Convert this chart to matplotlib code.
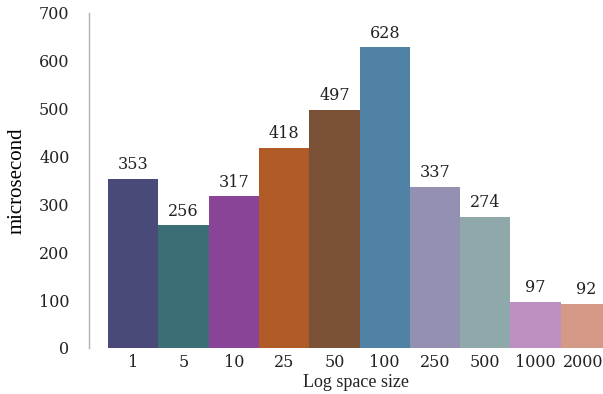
import matplotlib
matplotlib.use("Agg")
import matplotlib.pyplot as plt
import numpy as np

sizes = ["1", "5", "10", "25", "50", "100", "250", "500", "1000", "2000"]
micros = [353, 256, 317, 418, 497, 628, 337, 274, 97, 92]
colors = ["#4a4a7a", "#3b6f75", "#8a4497", "#b05a27", "#7a5036",
          "#4f82a4", "#9490b1", "#8fa8a9", "#bd90c1", "#d59a87"]

plt.rcParams["font.family"] = ["Liberation Serif", "DejaVu Serif"]
num_font = "DejaVu Serif"
ink = "#222222"

fig = plt.figure(figsize=(6.03, 3.94), dpi=100)
ax = fig.add_axes([0.1476, 0.1168, 0.8524, 0.8503])

x = np.arange(len(sizes))
ax.bar(x, micros, width=1.0, color=colors, linewidth=0)
for xi, v in zip(x, micros):
    ax.text(xi, v + 12, str(v), ha="center", va="bottom", fontsize=11.5,
            family=num_font, color=ink)

ax.set_xlim(-0.88, 9.34)
ax.set_ylim(0, 700)
ax.set_yticks(range(0, 701, 100))
for lab in ax.get_yticklabels():
    lab.set_family(num_font)
ax.tick_params(axis="y", length=0, labelsize=11.5, colors=ink, pad=14)

# category labels under each bar; the last bar runs off the right edge,
# so its label is pinned inside the figure instead of centred
ax.set_xticks(x, labels=[""] * len(sizes))
ax.tick_params(axis="x", length=0)
for xi, s in zip(x, sizes):
    if xi == x[-1]:
        xy, xyc, ha = (1.0, 0.0), "axes fraction", "right"
    else:
        xy, xyc, ha = (xi, 0.0), ("data", "axes fraction"), "center"
    ax.annotate(s, xy=xy, xycoords=xyc, xytext=(0, -4), textcoords="offset points",
                ha=ha, va="top", fontsize=11.5, family=num_font, color=ink)

for side in ("top", "right", "bottom"):
    ax.spines[side].set_visible(False)
ax.spines["left"].set_color("#b0b0b0")
ax.spines["left"].set_linewidth(1.0)

ax.set_ylabel("microsecond", fontsize=15, labelpad=9)
fig.text(0.59, 0.028, "Log space size", ha="center", va="center", fontsize=13, color=ink)

fig.savefig("out.png", dpi=100)
